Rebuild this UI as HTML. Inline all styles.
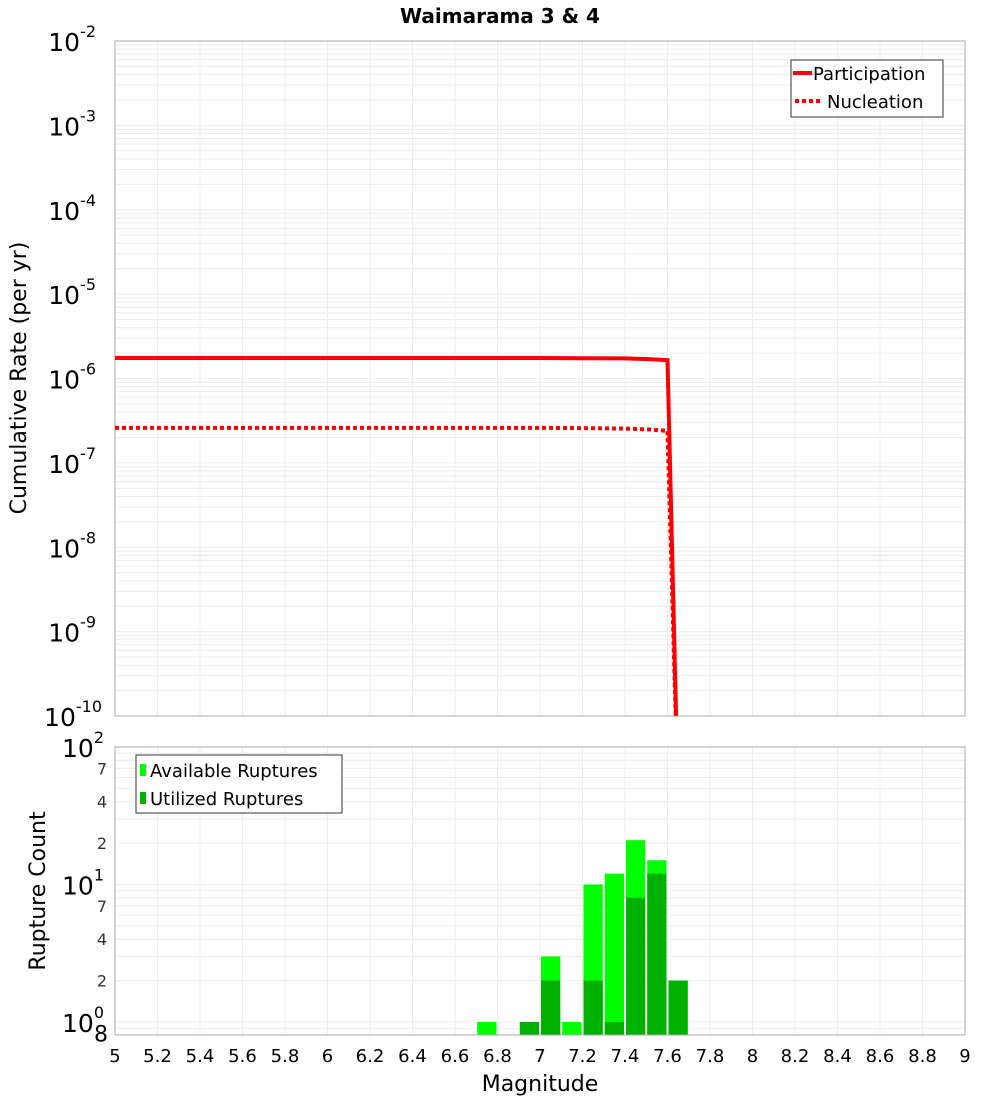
<!DOCTYPE html>
<html><head><meta charset="utf-8"><style>
body{margin:0;background:#fff;}
svg{display:block;font-family:"DejaVu Sans","Liberation Sans",sans-serif;}
</style></head><body>
<svg id="c" width="1000" height="1100" xmlns="http://www.w3.org/2000/svg"></svg>
<script>
const mags=[5.0,5.5,6.0,6.5,7.0,7.2,7.4,7.5,7.6,7.65];
const partRates=[1.75e-6,1.75e-6,1.75e-6,1.75e-6,1.75e-6,1.74e-6,1.73e-6,1.7e-6,1.65e-6,1e-11];
const nuclRates=[2.6e-7,2.6e-7,2.6e-7,2.6e-7,2.6e-7,2.58e-7,2.55e-7,2.5e-7,2.4e-7,1e-11];
const binCenters=[6.75,6.95,7.05,7.15,7.25,7.35,7.45,7.55,7.65];
const availCounts=[1,0,3,1,10,12,21,15,2];
const usedCounts=[0,1,2,0,2,1,8,12,2];
const xTicks=[5,5.2,5.4,5.6,5.8,6,6.2,6.4,6.6,6.8,7,7.2,7.4,7.6,7.8,8,8.2,8.4,8.6,8.8,9];
const topExps=[-2,-3,-4,-5,-6,-7,-8,-9,-10];

const svg=document.getElementById('c');
const NS='http://www.w3.org/2000/svg';
function mk(tag,attrs,parent,text){const e=document.createElementNS(NS,tag);for(const k in attrs)e.setAttribute(k,attrs[k]);if(text!==undefined)e.textContent=text;(parent||svg).appendChild(e);return e;}
const X0=115,X1=965;
const x=m=>X0+(m-5)/4*(X1-X0);
const T0=41,T1=716;
const yTop=v=>{const l=Math.log10(v);return T0+(-2-l)/8*(T1-T0);};
const B0=747,B1=1035,BD=137.5;
const yBot=v=>B0+(2-Math.log10(v))*BD;

let t=mk('text',{x:500,y:23,'text-anchor':'middle','font-size':20,'font-weight':'bold'},svg,'Waimarama 3 & 4');



let g=mk('g',{});


for(let e=-10;e<-2;e++)for(let k=1;k<10;k++){const yy=yTop(k*Math.pow(10,e));if(yy<T0||yy>T1)continue;mk('line',{x1:X0,x2:X1,y1:yy,y2:yy,stroke:'#ececec','stroke-width':1},g);}
xTicks.forEach(m=>mk('line',{x1:x(m),x2:x(m),y1:T0,y2:T1,stroke:'#ececec','stroke-width':1},g));
let fr=mk('rect',{x:X0,y:T0,width:X1-X0,height:T1-T0,fill:'none',stroke:'#aaa','stroke-width':1});



topExps.forEach(e=>{const yy=yTop(Math.pow(10,e));const tx=mk('text',{x:e===-10?102:96,y:yy+10,'text-anchor':'end','font-size':25});


mk('tspan',{},tx,'10');mk('tspan',{dy:-14,'font-size':16},tx,String(e));});
t=mk('text',{transform:'translate(26,378) rotate(-90)','text-anchor':'middle','font-size':22},svg,'Cumulative Rate (per yr)');



const clipT=mk('clipPath',{id:'ct'});mk('rect',{x:X0,y:T0,width:X1-X0,height:T1-T0},clipT);
function pts(arr){return mags.map((m,i)=>x(m)+','+yTop(arr[i])).join(' ');}
let p=mk('polyline',{points:pts(partRates),fill:'none',stroke:'#f00','stroke-width':4,'clip-path':'url(#ct)'});


p=mk('polyline',{points:pts(nuclRates),fill:'none',stroke:'#f00','stroke-width':4,'stroke-dasharray':'4,3','clip-path':'url(#ct)'});



let lg=mk('g',{});


mk('rect',{x:791,y:60,width:152,height:57,fill:'#fff',stroke:'#333','stroke-width':1},lg);
mk('line',{x1:793,x2:812,y1:73,y2:73,stroke:'#f00','stroke-width':4},lg);
mk('text',{x:813,y:80,'font-size':18},lg,'Participation');
mk('line',{x1:795,x2:822,y1:101,y2:101,stroke:'#f00','stroke-width':4,'stroke-dasharray':'4,3'},lg);
mk('text',{x:827,y:108,'font-size':18},lg,'Nucleation');

g=mk('g',{});


for(let e=-1;e<2;e++)for(let k=1;k<10;k++){const yy=yBot(k*Math.pow(10,e));if(yy<B0||yy>B1)continue;mk('line',{x1:X0,x2:X1,y1:yy,y2:yy,stroke:'#ececec','stroke-width':1},g);}
xTicks.forEach(m=>mk('line',{x1:x(m),x2:x(m),y1:B0,y2:B1,stroke:'#ececec','stroke-width':1},g));

const bw=x(5.1)-x(5)-2;
binCenters.forEach((m,i)=>{
 if(availCounts[i]>0){const r=mk('rect',{x:x(m)-bw/2,y:yBot(availCounts[i]),width:bw,height:B1-yBot(availCounts[i]),fill:'#00ff00'});
 
 }
 if(usedCounts[i]>0){const r=mk('rect',{x:x(m)-bw/2,y:yBot(usedCounts[i]),width:bw,height:B1-yBot(usedCounts[i]),fill:'#00b000'});
 
 }
});
fr=mk('rect',{x:X0,y:B0,width:X1-X0,height:B1-B0,fill:'none',stroke:'#aaa','stroke-width':1});



[2,1,0].forEach(e=>{const yy=yBot(Math.pow(10,e));const tx=mk('text',{x:104,y:yy+10,'text-anchor':'end','font-size':25});


mk('tspan',{},tx,'10');mk('tspan',{dy:-14,'font-size':16},tx,String(e));});
[[7,1],[4,1],[2,1],[7,0],[4,0],[2,0],[8,-1]].forEach(([k,e])=>{const yy=yBot(k*Math.pow(10,e));const tx=mk('text',{x:e<0?108:107,y:yy+6,'text-anchor':'end','font-size':e<0?22:16,fill:e<0?'#000':'#333'},svg,String(k));

});
t=mk('text',{transform:'translate(45,891) rotate(-90)','text-anchor':'middle','font-size':22},svg,'Rupture Count');



xTicks.forEach(m=>{const tx=mk('text',{x:x(m),y:1062,'text-anchor':'middle','font-size':18},svg,String(m));

});
t=mk('text',{x:540,y:1091,'text-anchor':'middle','font-size':22},svg,'Magnitude');



lg=mk('g',{});


mk('rect',{x:136,y:755,width:206,height:58,fill:'#fff',stroke:'#333','stroke-width':1},lg);
mk('rect',{x:140,y:764,width:6,height:12,fill:'#00ff00'},lg);
mk('text',{x:150,y:777,'font-size':18},lg,'Available Ruptures');
mk('rect',{x:140,y:792,width:6,height:12,fill:'#00b000'},lg);
mk('text',{x:150,y:805,'font-size':18},lg,'Utilized Ruptures');
</script>
</body></html>
